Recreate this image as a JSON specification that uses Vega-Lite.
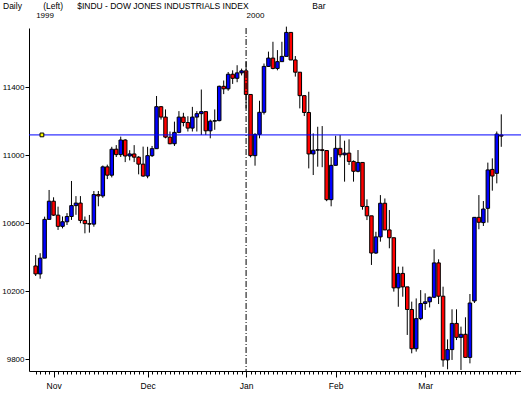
{
  "$schema": "https://vega.github.io/schema/vega-lite/v6.json",
  "autosize": {"type": "none"},
  "width": 492,
  "height": 343,
  "padding": {"left": 29, "top": 28, "right": 0, "bottom": 25},
  "background": "white",
  "config": {"view": {"stroke": null}},
  "title": {
    "text": "Daily\u00a0\u00a0\u00a0\u00a0\u00a0\u00a0\u00a0\u00a0\u00a0(Left)\u00a0\u00a0\u00a0\u00a0\u00a0\u00a0$INDU - DOW JONES INDUSTRIALS INDEX\u00a0\u00a0\u00a0\u00a0\u00a0\u00a0\u00a0\u00a0\u00a0\u00a0\u00a0\u00a0\u00a0\u00a0\u00a0\u00a0\u00a0\u00a0\u00a0\u00a0\u00a0\u00a0\u00a0\u00a0\u00a0\u00a0\u00a0Bar",
    "anchor": "start",
    "frame": "group",
    "dx": -26,
    "dy": 9,
    "offset": 3,
    "font": "Liberation Sans",
    "fontSize": 8.5,
    "fontWeight": "normal",
    "color": "black",
    "baseline": "alphabetic"
  },
  "datasets": {
    "dji": [
      {"d":"1999-10-26","i":0,"o":10349,"h":10413,"l":10290,"c":10302},
      {"d":"1999-10-27","i":1,"o":10302,"h":10424,"l":10274,"c":10395},
      {"d":"1999-10-28","i":2,"o":10395,"h":10639,"l":10395,"c":10623},
      {"d":"1999-10-29","i":3,"o":10623,"h":10796,"l":10629,"c":10730},
      {"d":"1999-11-01","i":4,"o":10730,"h":10753,"l":10643,"c":10648},
      {"d":"1999-11-02","i":5,"o":10648,"h":10698,"l":10561,"c":10582},
      {"d":"1999-11-03","i":6,"o":10582,"h":10640,"l":10570,"c":10609},
      {"d":"1999-11-04","i":7,"o":10609,"h":10660,"l":10590,"c":10640},
      {"d":"1999-11-05","i":8,"o":10640,"h":10849,"l":10620,"c":10704},
      {"d":"1999-11-08","i":9,"o":10704,"h":10760,"l":10650,"c":10719},
      {"d":"1999-11-09","i":10,"o":10719,"h":10760,"l":10600,"c":10617},
      {"d":"1999-11-10","i":11,"o":10617,"h":10640,"l":10541,"c":10598},
      {"d":"1999-11-11","i":12,"o":10598,"h":10649,"l":10545,"c":10595},
      {"d":"1999-11-12","i":13,"o":10595,"h":10790,"l":10580,"c":10769},
      {"d":"1999-11-15","i":14,"o":10769,"h":10790,"l":10700,"c":10761},
      {"d":"1999-11-16","i":15,"o":10761,"h":10940,"l":10750,"c":10932},
      {"d":"1999-11-17","i":16,"o":10932,"h":10945,"l":10860,"c":10883},
      {"d":"1999-11-18","i":17,"o":10883,"h":11050,"l":10870,"c":11036},
      {"d":"1999-11-19","i":18,"o":11036,"h":11060,"l":10990,"c":11004},
      {"d":"1999-11-22","i":19,"o":11004,"h":11110,"l":10990,"c":11090},
      {"d":"1999-11-23","i":20,"o":11090,"h":11095,"l":10960,"c":10996},
      {"d":"1999-11-24","i":21,"o":10996,"h":11030,"l":10970,"c":11008},
      {"d":"1999-11-26","i":22,"o":11008,"h":11060,"l":10960,"c":10989},
      {"d":"1999-11-29","i":23,"o":10989,"h":10995,"l":10888,"c":10948},
      {"d":"1999-11-30","i":24,"o":10948,"h":11051,"l":10874,"c":10878},
      {"d":"1999-12-01","i":25,"o":10878,"h":11050,"l":10865,"c":10998},
      {"d":"1999-12-02","i":26,"o":10998,"h":11055,"l":10990,"c":11039},
      {"d":"1999-12-03","i":27,"o":11039,"h":11349,"l":11039,"c":11286},
      {"d":"1999-12-06","i":28,"o":11286,"h":11290,"l":11210,"c":11225},
      {"d":"1999-12-07","i":29,"o":11225,"h":11270,"l":11100,"c":11107},
      {"d":"1999-12-08","i":30,"o":11107,"h":11140,"l":11065,"c":11068},
      {"d":"1999-12-09","i":31,"o":11068,"h":11198,"l":11055,"c":11135},
      {"d":"1999-12-10","i":32,"o":11135,"h":11260,"l":11130,"c":11225},
      {"d":"1999-12-13","i":33,"o":11225,"h":11250,"l":11170,"c":11193},
      {"d":"1999-12-14","i":34,"o":11193,"h":11230,"l":11140,"c":11160},
      {"d":"1999-12-15","i":35,"o":11160,"h":11285,"l":11140,"c":11225},
      {"d":"1999-12-16","i":36,"o":11225,"h":11260,"l":11140,"c":11245},
      {"d":"1999-12-17","i":37,"o":11245,"h":11387,"l":11120,"c":11257},
      {"d":"1999-12-20","i":38,"o":11257,"h":11257,"l":11120,"c":11144},
      {"d":"1999-12-21","i":39,"o":11144,"h":11210,"l":11100,"c":11201},
      {"d":"1999-12-22","i":40,"o":11201,"h":11270,"l":11150,"c":11204},
      {"d":"1999-12-23","i":41,"o":11204,"h":11410,"l":11200,"c":11406},
      {"d":"1999-12-27","i":42,"o":11406,"h":11440,"l":11360,"c":11391},
      {"d":"1999-12-28","i":43,"o":11391,"h":11490,"l":11380,"c":11477},
      {"d":"1999-12-29","i":44,"o":11477,"h":11500,"l":11420,"c":11453},
      {"d":"1999-12-30","i":45,"o":11453,"h":11530,"l":11430,"c":11485},
      {"d":"1999-12-31","i":46,"o":11485,"h":11510,"l":11470,"c":11497},
      {"d":"2000-01-03","i":47,"o":11497,"h":11551,"l":11276,"c":11358},
      {"d":"2000-01-04","i":48,"o":11358,"h":11358,"l":10988,"c":10998},
      {"d":"2000-01-05","i":49,"o":10998,"h":11130,"l":10939,"c":11123},
      {"d":"2000-01-06","i":50,"o":11123,"h":11321,"l":11100,"c":11253},
      {"d":"2000-01-07","i":51,"o":11253,"h":11540,"l":11240,"c":11523},
      {"d":"2000-01-10","i":52,"o":11523,"h":11610,"l":11520,"c":11572},
      {"d":"2000-01-11","i":53,"o":11572,"h":11668,"l":11506,"c":11511},
      {"d":"2000-01-12","i":54,"o":11511,"h":11619,"l":11500,"c":11551},
      {"d":"2000-01-13","i":55,"o":11551,"h":11668,"l":11560,"c":11582},
      {"d":"2000-01-14","i":56,"o":11582,"h":11757,"l":11610,"c":11723},
      {"d":"2000-01-18","i":57,"o":11723,"h":11723,"l":11560,"c":11561},
      {"d":"2000-01-19","i":58,"o":11561,"h":11584,"l":11463,"c":11489},
      {"d":"2000-01-20","i":59,"o":11489,"h":11490,"l":11276,"c":11351},
      {"d":"2000-01-21","i":60,"o":11351,"h":11351,"l":11231,"c":11252},
      {"d":"2000-01-24","i":61,"o":11252,"h":11374,"l":10923,"c":11008},
      {"d":"2000-01-25","i":62,"o":11008,"h":11129,"l":10884,"c":11030},
      {"d":"2000-01-26","i":63,"o":11030,"h":11168,"l":10933,"c":11033},
      {"d":"2000-01-27","i":64,"o":11033,"h":11172,"l":10930,"c":11028},
      {"d":"2000-01-28","i":65,"o":11028,"h":11028,"l":10730,"c":10739},
      {"d":"2000-01-31","i":66,"o":10739,"h":10990,"l":10700,"c":10941},
      {"d":"2000-02-01","i":67,"o":10941,"h":11115,"l":10940,"c":11041},
      {"d":"2000-02-02","i":68,"o":11041,"h":11119,"l":10988,"c":11003},
      {"d":"2000-02-03","i":69,"o":11003,"h":11086,"l":10845,"c":11013},
      {"d":"2000-02-04","i":70,"o":11013,"h":11094,"l":10943,"c":10964},
      {"d":"2000-02-07","i":71,"o":10964,"h":10970,"l":10845,"c":10906},
      {"d":"2000-02-08","i":72,"o":10906,"h":11031,"l":10900,"c":10958},
      {"d":"2000-02-09","i":73,"o":10958,"h":10958,"l":10680,"c":10699},
      {"d":"2000-02-10","i":74,"o":10699,"h":10741,"l":10619,"c":10644},
      {"d":"2000-02-11","i":75,"o":10644,"h":10644,"l":10355,"c":10425},
      {"d":"2000-02-14","i":76,"o":10425,"h":10550,"l":10420,"c":10520},
      {"d":"2000-02-15","i":77,"o":10520,"h":10766,"l":10492,"c":10718},
      {"d":"2000-02-16","i":78,"o":10718,"h":10746,"l":10560,"c":10561},
      {"d":"2000-02-17","i":79,"o":10561,"h":10678,"l":10453,"c":10515},
      {"d":"2000-02-18","i":80,"o":10515,"h":10515,"l":10198,"c":10220},
      {"d":"2000-02-22","i":81,"o":10220,"h":10345,"l":10109,"c":10305},
      {"d":"2000-02-23","i":82,"o":10305,"h":10345,"l":10168,"c":10226},
      {"d":"2000-02-24","i":83,"o":10226,"h":10226,"l":9943,"c":10093},
      {"d":"2000-02-25","i":84,"o":10093,"h":10139,"l":9835,"c":9862},
      {"d":"2000-02-28","i":85,"o":9862,"h":10158,"l":9845,"c":10039},
      {"d":"2000-02-29","i":86,"o":10039,"h":10207,"l":10030,"c":10128},
      {"d":"2000-03-01","i":87,"o":10128,"h":10188,"l":10090,"c":10138},
      {"d":"2000-03-02","i":88,"o":10138,"h":10168,"l":10105,"c":10165},
      {"d":"2000-03-03","i":89,"o":10165,"h":10447,"l":10160,"c":10367},
      {"d":"2000-03-06","i":90,"o":10367,"h":10388,"l":10125,"c":10171},
      {"d":"2000-03-07","i":91,"o":10171,"h":10227,"l":9756,"c":9796},
      {"d":"2000-03-08","i":92,"o":9796,"h":9917,"l":9741,"c":9857},
      {"d":"2000-03-09","i":93,"o":9857,"h":10094,"l":9796,"c":10011},
      {"d":"2000-03-10","i":94,"o":10011,"h":10094,"l":9913,"c":9929},
      {"d":"2000-03-13","i":95,"o":9929,"h":9992,"l":9737,"c":9947},
      {"d":"2000-03-14","i":96,"o":9947,"h":10047,"l":9811,"c":9811},
      {"d":"2000-03-15","i":97,"o":9811,"h":10184,"l":9776,"c":10131},
      {"d":"2000-03-16","i":98,"o":10143,"h":10635,"l":10131,"c":10635},
      {"d":"2000-03-17","i":99,"o":10635,"h":10766,"l":10565,"c":10606},
      {"d":"2000-03-20","i":100,"o":10604,"h":10731,"l":10584,"c":10684},
      {"d":"2000-03-21","i":101,"o":10688,"h":10957,"l":10604,"c":10914},
      {"d":"2000-03-22","i":102,"o":10917,"h":10982,"l":10792,"c":10878},
      {"d":"2000-03-23","i":103,"o":10894,"h":11140,"l":10835,"c":11125},
      {"d":"2000-03-24","i":104,"o":11119,"h":11241,"l":11050,"c":11113}
    ],
    "marks": [
      {"t": "1999", "i": 0},
      {"t": "2000", "i": 47}
    ]
  },
  "resolve": {"axis": {"x": "independent"}},
  "layer": [
    {
      "data": {"name": "dji"},
      "mark": {"type": "rule", "color": "black", "strokeWidth": 1},
      "encoding": {
        "x": {
          "field": "i", "type": "quantitative",
          "scale": {"domain": [-0.372, 107.29], "nice": false, "zero": false},
          "axis": {
            "orient": "bottom",
            "values": [0,1,2,3,4,5,6,7,8,9,10,11,12,13,14,15,16,17,18,19,20,21,22,23,24,25,26,27,28,29,30,31,32,33,34,35,36,37,38,39,40,41,42,43,44,45,46,47,48,49,50,51,52,53,54,55,56,57,58,59,60,61,62,63,64,65,66,67,68,69,70,71,72,73,74,75,76,77,78,79,80,81,82,83,84,85,86,87,88,89,90,91,92,93,94,95,96,97,98,99,100,101,102,103,104,105,106,107],
            "tickSize": {"condition": {"test": "indexof([4,25,47,67,87], datum.value) >= 0", "value": 6}, "value": 3},
            "labelExpr": "datum.value == 4 ? 'Nov' : datum.value == 25 ? 'Dec' : datum.value == 47 ? 'Jan' : datum.value == 67 ? 'Feb' : datum.value == 87 ? 'Mar' : ''",
            "labelFont": "Liberation Sans",
            "labelFontSize": 8.5,
            "labelColor": "black",
            "labelPadding": 4,
            "labelFlush": false,
            "labelOverlap": false,
            "labelBound": false,
            "tickColor": "black",
            "domainColor": "black",
            "grid": false,
            "title": null
          }
        },
        "y": {
          "field": "l", "type": "quantitative",
          "scale": {"domain": [9731, 11749], "nice": false, "zero": false},
          "axis": {
            "orient": "left",
            "values": [9800, 10000, 10200, 10400, 10600, 10800, 11000, 11200, 11400, 11600],
            "format": "d",
            "tickSize": 4,
            "labelPadding": 1,
            "labelFont": "Liberation Sans",
            "labelFontSize": 8,
            "labelColor": "black",
            "tickColor": "black",
            "domainColor": "black",
            "grid": false,
            "title": null
          }
        },
        "y2": {"field": "h"}
      }
    },
    {
      "data": {"name": "dji"},
      "mark": {"type": "bar", "size": 3.5, "stroke": "black", "strokeWidth": 1},
      "encoding": {
        "x": {"field": "i", "type": "quantitative", "axis": null},
        "y": {"field": "o", "type": "quantitative"},
        "y2": {"field": "c"},
        "color": {
          "condition": {"test": "datum.c >= datum.o", "value": "#0000ff"},
          "value": "#ff0000"
        }
      }
    },
    {
      "data": {"values": [{"v": 11120}]},
      "mark": {"type": "rule", "color": "#0000ff", "strokeWidth": 1},
      "encoding": {"y": {"field": "v", "type": "quantitative"}}
    },
    {
      "data": {"values": [{"i": 47}]},
      "mark": {"type": "rule", "color": "black", "strokeWidth": 1, "strokeDash": [6, 2, 1, 2]},
      "encoding": {"x": {"field": "i", "type": "quantitative", "axis": null}}
    },
    {
      "data": {"values": [{"i": 1.4, "v": 11120}]},
      "mark": {"type": "square", "size": 14, "fill": "#ffff00", "stroke": "black", "strokeWidth": 1, "opacity": 1},
      "encoding": {
        "x": {"field": "i", "type": "quantitative", "axis": null},
        "y": {"field": "v", "type": "quantitative"}
      }
    },
    {
      "data": {"name": "marks"},
      "mark": {"type": "tick", "opacity": 0},
      "encoding": {
        "x": {
          "field": "i", "type": "quantitative",
          "axis": {
            "orient": "top",
            "values": [0, 47],
            "labelExpr": "datum.value == 0 ? '1999' : '2000'",
            "labelAlign": "left",
            "labelBaseline": "alphabetic",
            "labelPadding": 11,
            "ticks": false,
            "domain": false,
            "labelFont": "Liberation Sans",
            "labelFontSize": 8,
            "labelColor": "black",
            "labelFlush": false,
            "labelBound": false,
            "grid": false,
            "title": null
          }
        }
      }
    }
  ]
}
